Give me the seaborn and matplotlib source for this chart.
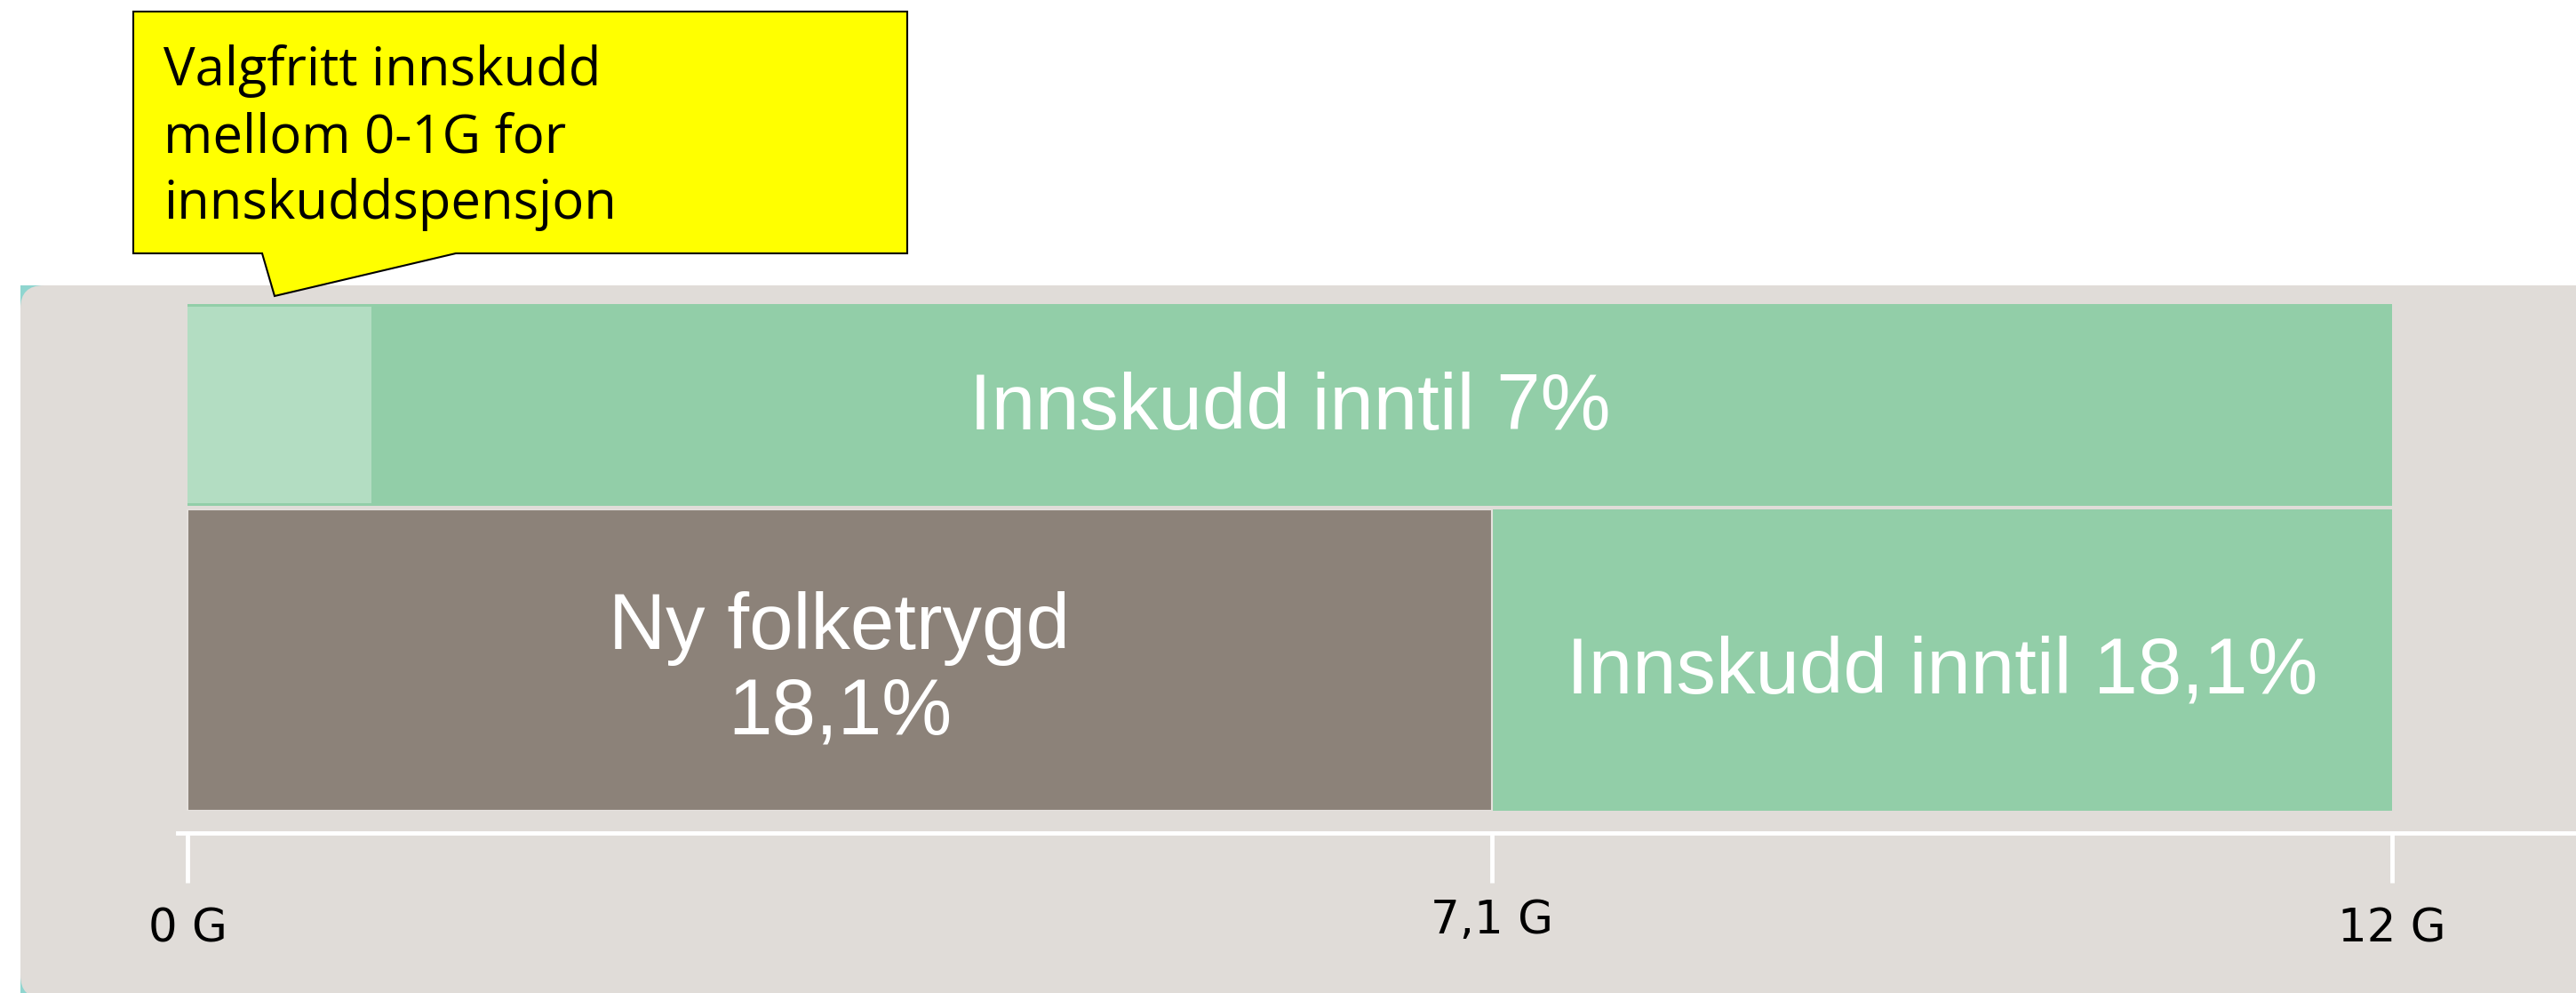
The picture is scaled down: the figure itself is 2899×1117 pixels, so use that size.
import matplotlib.pyplot as plt
import seaborn as sns
from matplotlib.patches import FancyBboxPatch, Polygon, Rectangle
from matplotlib.transforms import IdentityTransform

# values in G (grunnbeløp)
top_total = [12]
top_optional = [1]
bottom_total = [12]
bottom_folketrygd = [7.1]
top_text = "Innskudd inntil 7%"
folketrygd_text = "Ny folketrygd\n18,1%"
bottom_text = "Innskudd inntil 18,1%"
tick_values = [0, 7.1, 12]
tick_labels = ["0 G", "7,1 G", "12 G"]
callout_text = "Valgfritt innskudd\nmellom 0-1G for\ninnskuddspensjon"

GREEN = "#92CEA8"
LIGHT_GREEN = "#B3DDC2"
BROWN = "#8C8279"
PANEL = "#E0DCD8"
TEAL = "#8FD5CF"

sns.set_theme(style="white")
plt.rcParams["font.family"] = ["DejaVu Sans"]

W, H = 2899, 1117
fig = plt.figure(figsize=(W / 100, H / 100), dpi=100)
fig.patch.set_facecolor("white")


def fx(x):
    return x / W


def fy(y):
    return 1 - y / H


# grey rounded panel with a teal strip peeking out at the corners
fig.add_artist(Rectangle((23, -10), 60, 1117 - 321 + 10, transform=IdentityTransform(),
                         facecolor=TEAL, edgecolor="none", zorder=-2))
fig.add_artist(FancyBboxPatch((23, -6), 3000, 1117 - 321 + 6, transform=IdentityTransform(),
                              boxstyle="round,pad=0,rounding_size=26",
                              facecolor=PANEL, edgecolor="none", zorder=-1))

# x scale: 0 G at px 211, 12 G at px 2692, axes span px 200..2899
u = (2692 - 211) / 12
xlim = (-(211 - 200) / u, 12 + (2899 - 2692) / u)

ax_top = fig.add_axes([fx(200), fy(569), 1 - fx(200), (569 - 342) / H])
ax_bot = fig.add_axes([fx(200), fy(912), 1 - fx(200), (912 - 573) / H])
for ax in (ax_top, ax_bot):
    ax.set_facecolor("none")

sns.barplot(x=top_total, y=["top"], ax=ax_top, color=GREEN, saturation=1,
            width=1, orient="h", linewidth=0)
sns.barplot(x=top_optional, y=["top"], ax=ax_top, color=LIGHT_GREEN, saturation=1,
            width=0.97, orient="h", linewidth=0)
ax_top.set_xlim(xlim)
ax_top.text(top_total[0] / 2, 0.02, top_text, ha="center", va="center", color="white",
            fontsize=64, family="Liberation Sans")
ax_top.axis("off")

sns.barplot(x=bottom_total, y=["bot"], ax=ax_bot, color=GREEN, saturation=1,
            width=1, orient="h", linewidth=0)
sns.barplot(x=bottom_folketrygd, y=["bot"], ax=ax_bot, color=BROWN, saturation=1,
            width=1, orient="h", linewidth=1.5, edgecolor="#E6E2DE")
ax_bot.set_xlim(xlim)
ax_bot.text(bottom_folketrygd[0] / 2, 0.035, folketrygd_text, ha="center", va="center",
            color="white", fontsize=64, family="Liberation Sans", linespacing=1.18)
ax_bot.text((bottom_folketrygd[0] + bottom_total[0]) / 2, 0.04, bottom_text, ha="center",
            va="center", color="white", fontsize=64, family="Liberation Sans")

sns.despine(ax=ax_bot, left=True)
ax_bot.spines["bottom"].set_position(("outward", 18))
ax_bot.spines["bottom"].set_color("white")
ax_bot.spines["bottom"].set_linewidth(3.5)
ax_bot.set_yticks([])
ax_bot.set_ylabel("")
ax_bot.set_xlabel("")
ax_bot.set_xticks(tick_values, tick_labels)
ax_bot.tick_params(axis="x", bottom=True, color="white", length=40, width=3.5,
                   pad=20, labelsize=37, labelcolor="black")
ax_bot.xaxis.get_major_ticks()[1].set_pad(13)

# callout
callout = [(150, 13), (1021, 13), (1021, 285), (513, 285), (309, 333), (295, 285), (150, 285)]
fig.add_artist(Polygon([(fx(x), fy(y)) for x, y in callout], closed=True,
                       transform=fig.transFigure, facecolor="#FFFF00",
                       edgecolor="black", linewidth=1.5, zorder=10))
fig.text(fx(184), fy(50), callout_text, ha="left", va="top", fontsize=43,
         family="Open Sans", color="black", linespacing=1.33, zorder=11)

fig.savefig("out.png", dpi=100)
